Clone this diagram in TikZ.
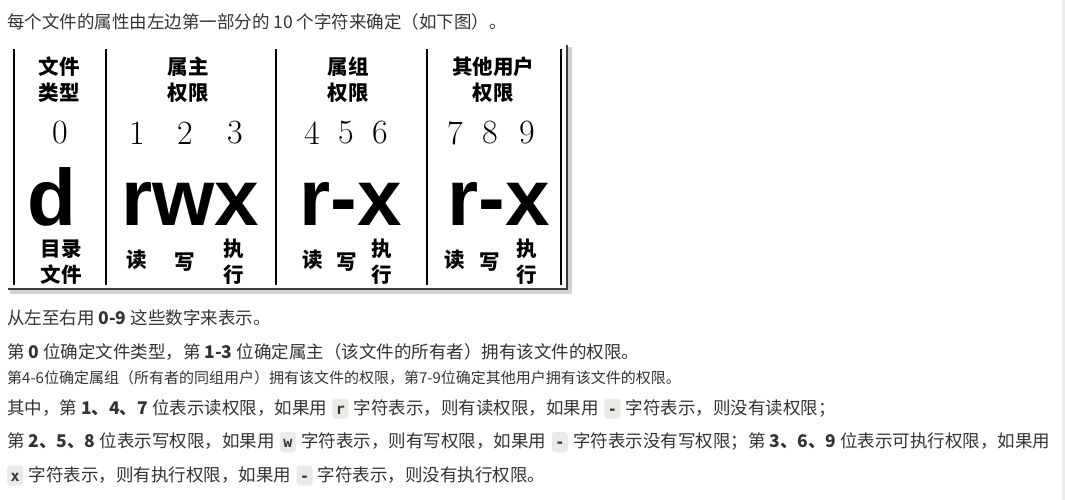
\documentclass[tikz,border=0pt]{standalone}
\usepackage{fontspec}
\usepackage{tikz}
\usetikzlibrary{positioning}
\newfontfamily\cjk{Noto Sans CJK SC}
\newfontfamily\bigsans{Liberation Sans}
\setmonofont{DejaVu Sans Mono}
\definecolor{bodytext}{RGB}{51, 51, 51}
\definecolor{chipbg}{RGB}{236, 234, 230}
\definecolor{framegray}{RGB}{60, 60, 60}
\definecolor{scrollgray}{RGB}{236, 236, 236}

\begin{document}
\begin{tikzpicture}[x=1pt, y=-1pt,
		para/.style={inner sep=0pt, anchor=base west, text=bodytext, font=\cjk\fontsize{17.5}{20}\selectfont},
		smallpara/.style={para, font=\cjk\fontsize{15}{17}\selectfont},
		chip/.style={fill=chipbg, rounded corners=3pt, inner xsep=3.5pt, inner ysep=1.5pt,
			text height=14pt, text depth=3pt, text=bodytext, font=\ttfamily\bfseries\fontsize{15}{18}\selectfont},
		head/.style={align=center, inner sep=0pt, font=\cjk\bfseries\fontsize{20.5}{26}\selectfont},
		digit/.style={inner sep=0pt, font=\fontsize{34}{38}\selectfont},
		perm/.style={inner sep=0pt, anchor=base, text depth=0pt, font=\bigsans\bfseries\fontsize{80}{90}\selectfont}]
			\useasboundingbox (0,0) rectangle (1065,500);
			\fill[scrollgray] (1062,0) rectangle (1065,500);

			% opening line
			\node[para] (intro) at (7,28.5) {每个文件的属性由左边第一部分的 10 个字符来确定（如下图）。};

			% frame of the picture, with its shadow
			\draw[line width=5pt, gray!35] (10,291) -- (569,291) -- (569,47);
			\draw[line width=2.5pt, framegray] (8,289) -- (567,289) -- (567,45);
			\foreach \xx in {14,106,276,427,561}
				\draw[line width=1.5pt] (\xx,49) -- (\xx,285);

			% column heads
			\node[head] (headtype)  at (59,80)  {文件\\类型};
			\node[head] (headowner) at (188,80) {属主\\权限};
			\node[head] (headgroup) at (348,80) {属组\\权限};
			\node[head] (headother) at (493,80) {其他用户\\权限};

			% positions 0-9
			\node[digit] (n0) at (60,133)  {0};
			\node[digit] (n1) at (137,133) {1};
			\node[digit] (n2) at (185,133) {2};
			\node[digit] (n3) at (235,133) {3};
			\node[digit] (n4) at (312,133) {4};
			\node[digit] (n5) at (346,133) {5};
			\node[digit] (n6) at (380,133) {6};
			\node[digit] (n7) at (455,133) {7};
			\node[digit] (n8) at (490,133) {8};
			\node[digit] (n9) at (527,133) {9};

			% the ten characters
			\node[perm] (ptype)  at (52,225)  {d};
			\node[perm] (powner) at (190,225) {rwx};
			\node[perm] (pgroup) at (351,225) {r-x};
			\node[perm] (pother) at (499,225) {r-x};

			% what they mean
			\node[head] (dirfile) at (61,262) {目录\\文件};
			\node[head] (rd1) at (137,260) {读};
			\node[head] (wr1) at (185,262) {写};
			\node[head] (ex1) at (234,262) {执\\行};
			\node[head] (rd2) at (313,260) {读};
			\node[head] (wr2) at (347,262) {写};
			\node[head] (ex2) at (382,262) {执\\行};
			\node[head] (rd3) at (455,260) {读};
			\node[head] (wr3) at (490,262) {写};
			\node[head] (ex3) at (527,262) {执\\行};

			% explanation below the picture
			\node[para] (l2) at (7,324.5) {从左至右用 \textbf{0-9} 这些数字来表示。};
			\node[para] (l3) at (7,358.5) {第 \textbf{0} 位确定文件类型，第 \textbf{1-3} 位确定属主（该文件的所有者）拥有该文件的权限。};
			\node[smallpara] (l4) at (7,383.5) {第4-6位确定属组（所有者的同组用户）拥有该文件的权限，第7-9位确定其他用户拥有该文件的权限。};

			\node[para] (l5a) at (7,414) {其中，第 \textbf{1、4、7} 位表示读权限，如果用};
			\node[chip, base right=5pt of l5a] (c5r) {r};
			\node[para, base right=5pt of c5r] (l5b) {字符表示，则有读权限，如果用};
			\node[chip, base right=5pt of l5b] (c5d) {-};
			\node[para, base right=5pt of c5d] (l5c) {字符表示，则没有读权限；};

			\node[para] (l6a) at (7,447.5) {第 \textbf{2、5、8} 位表示写权限，如果用};
			\node[chip, base right=5pt of l6a] (c6w) {w};
			\node[para, base right=5pt of c6w] (l6b) {字符表示，则有写权限，如果用};
			\node[chip, base right=5pt of l6b] (c6d) {-};
			\node[para, base right=5pt of c6d] (l6c) {字符表示没有写权限；第 \textbf{3、6、9} 位表示可执行权限，如果用};

			\node[chip, anchor=base west] (c7x) at (7,481) {x};
			\node[para, base right=5pt of c7x] (l7a) {字符表示，则有执行权限，如果用};
			\node[chip, base right=5pt of l7a] (c7d) {-};
			\node[para, base right=5pt of c7d] (l7b) {字符表示，则没有执行权限。};
		\end{tikzpicture}
\end{document}
